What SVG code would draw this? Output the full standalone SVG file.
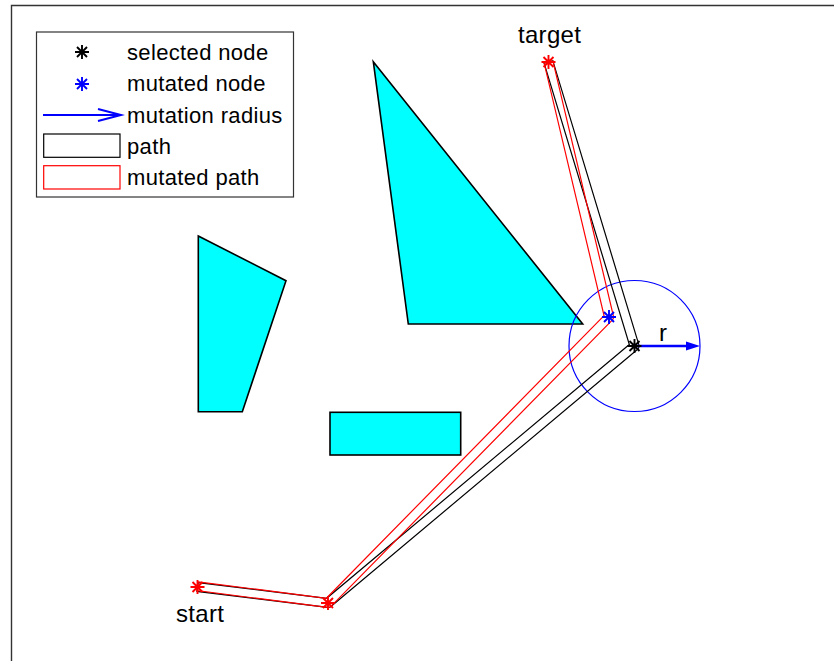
<svg xmlns="http://www.w3.org/2000/svg" xmlns:xlink="http://www.w3.org/1999/xlink" width="834" height="661" viewBox="0 0 834 661">
  <style>
    .obst { fill: #00ffff; stroke: #000; stroke-width: 1.6; stroke-linejoin: miter; }
    .txt { font-family: "Liberation Sans", Arial, sans-serif; fill: #000; }
    .leg { font-size: 22px; letter-spacing: 0.35px; }
    .lab { font-size: 24px; letter-spacing: 0.3px; }
    .pathK { fill: none; stroke: #000; stroke-width: 1.2; }
    .pathR { fill: none; stroke: #ff0000; stroke-width: 1.2; }
    .star { fill: none; stroke-width: 1.9; }
  </style>
  <defs>
    <path id="ast" d="M-7,0H7M0,-7V7M-5,-5L5,5M-5,5L5,-5"/>
  </defs>
  <rect x="0" y="0" width="834" height="661" fill="#fff"/>
  <!-- axes frame -->
  <path d="M11.5,661 V5.5 H834" fill="none" stroke="#333" stroke-width="1.4"/>

  <!-- obstacles -->
  <g id="obstacle-quad"><polygon class="obst" points="198.3,236 286,280.7 242.3,411.7 198.3,411.7"/></g>
  <g id="obstacle-triangle"><polygon class="obst" points="373.3,61.7 408.3,324 582.7,324"/></g>
  <g id="obstacle-rect"><rect class="obst" x="330" y="412.3" width="130.7" height="42.7"/></g>

  <!-- mutation radius circle -->
  <g id="mutation-circle"><circle cx="634.5" cy="346" r="65.5" fill="none" stroke="#0000ff" stroke-width="1.2"/></g>

  <!-- connectors: paths and radius arrow -->
  <g id="connectors">
    <path id="path" class="pathK" d="M198.05,582.53 L326.61,598.30 L629.33,344.46 L544.19,63.30 L552.81,60.70 L638.81,344.70 A4.5,4.5 0 0 1 637.39,349.45 L330.89,606.45 A4.5,4.5 0 0 1 327.45,607.47 L196.95,591.47 Z"/>
    <path id="mutated-path" class="pathR" d="M198.05,581.8 L326.35,598.26 L604.05,315.62 L544.12,63.04 L552.88,60.96 L613.38,315.96 A4.5,4.5 0 0 1 612.21,320.15 L331.21,606.15 A4.5,4.5 0 0 1 327.45,607.47 L196.95,590.6 Z"/>
    <g id="radius-arrow">
      <line x1="634.5" y1="346" x2="689" y2="346" stroke="#0000ff" stroke-width="2.4"/>
      <polygon points="686,341.5 700,346 686,350.5" fill="#0000ff"/>
    </g>
  </g>

  <!-- nodes -->
  <g id="node-start"><use xlink:href="#ast" href="#ast" x="197.5" y="587" class="star" stroke="#ff0000"/></g>
  <g id="node-waypoint"><use xlink:href="#ast" href="#ast" x="328" y="603" class="star" stroke="#ff0000"/></g>
  <g id="node-target"><use xlink:href="#ast" href="#ast" x="548.5" y="62" class="star" stroke="#ff0000"/></g>
  <g id="node-mutated"><use xlink:href="#ast" href="#ast" x="609" y="317" class="star" stroke="#0000ff"/></g>
  <g id="node-selected"><use xlink:href="#ast" href="#ast" x="634.5" y="346" class="star" stroke="#000"/></g>

  <!-- labels -->
  <g id="labels">
    <text class="txt lab" x="518" y="43">target</text>
    <text class="txt lab" x="176" y="622">start</text>
    <text class="txt lab" x="659" y="341">r</text>
  </g>

  <!-- legend -->
  <g id="legend">
    <rect x="36.5" y="32" width="257" height="165" fill="#fff" stroke="#333" stroke-width="1.2"/>
    <use xlink:href="#ast" href="#ast" x="82" y="52" class="star" stroke="#000"/>
    <text class="txt leg" x="127" y="60">selected node</text>
    <use xlink:href="#ast" href="#ast" x="82" y="84" class="star" stroke="#0000ff"/>
    <text class="txt leg" x="127" y="91.3">mutated node</text>
    <line x1="43" y1="115" x2="120" y2="115" stroke="#0000ff" stroke-width="2"/>
    <polyline points="98,109 121,115 98,121" fill="none" stroke="#0000ff" stroke-width="2"/>
    <text class="txt leg" x="127" y="122.6">mutation radius</text>
    <rect x="43.7" y="134" width="76.3" height="23.3" fill="none" stroke="#000" stroke-width="1.2"/>
    <text class="txt leg" x="127" y="153.9">path</text>
    <rect x="43.7" y="165.7" width="76.3" height="23.3" fill="none" stroke="#ff0000" stroke-width="1.2"/>
    <text class="txt leg" x="127" y="185.2">mutated path</text>
  </g>
</svg>
